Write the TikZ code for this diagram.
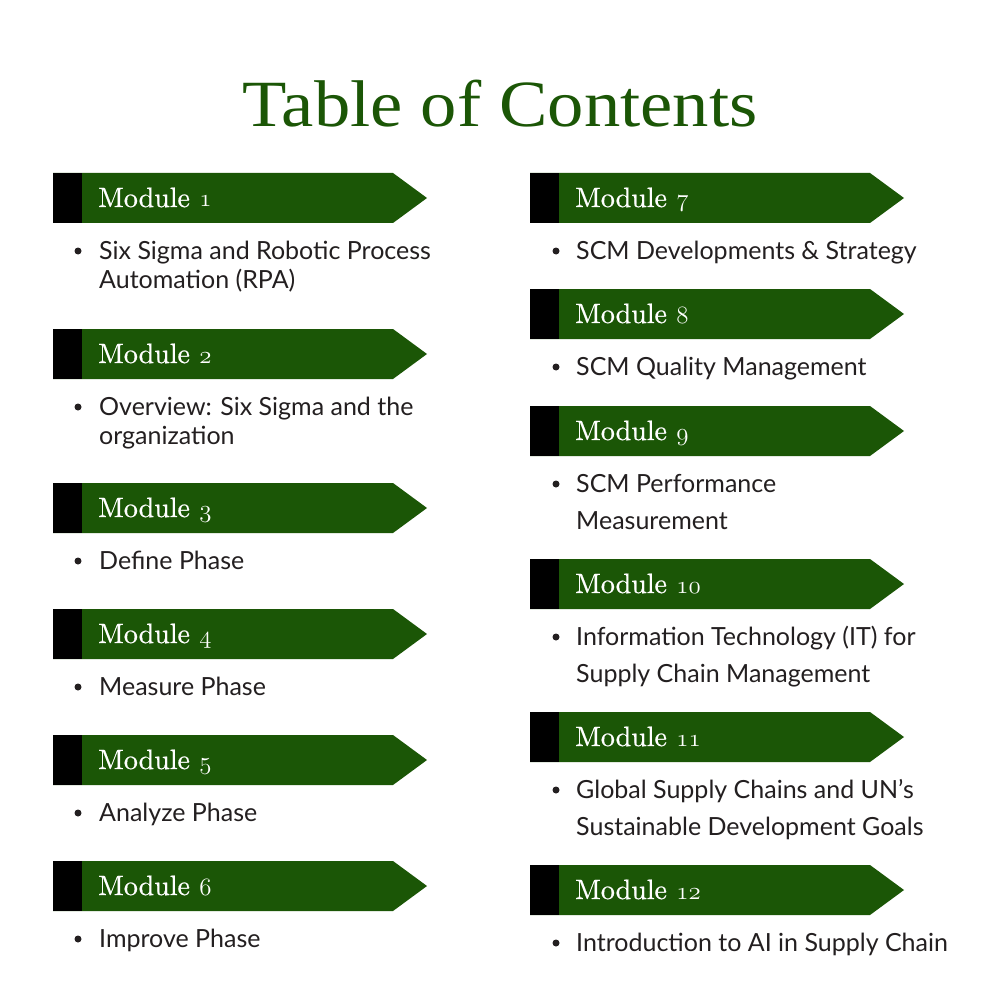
\documentclass[tikz,border=0pt]{standalone}
\usepackage{fontspec}
\setsansfont{Lato}
\newfontfamily\titlefont[FakeStretch=1.1]{Liberation Serif}
\newfontfamily\headfont[Extension=.otf, FakeBold=0.6]{lmroman10-regular}
\usetikzlibrary{positioning,calc}
\definecolor{tocgreen}{HTML}{1B5606}
\definecolor{toctext}{HTML}{231F20}
% old style digits from the math italic font
\newcommand\osn[1]{{\usefont{OML}{lmm}{b}{it}#1}}
% lines of a point, first baseline on the node's base
\newcommand\lines[1]{\begin{tabular}[t]{@{}l@{}}#1\end{tabular}}
% banner: name, x, y of top edge, module number
\newcommand\tocbanner[4]{%
  \fill[banner] (#2,#3) -- ++(340,0) -- ++(34,25) -- ++(-34,25) -- ++(-340,0) -- cycle;
  \fill[black] (#2,#3) rectangle ++(29,50);
  \node[heading] (#1) at (#2+45,#3+34) {Module \osn{#4}};
}

\begin{document}
\begin{tikzpicture}[x=1pt,y=-1pt,
    banner/.style={fill=tocgreen},
    heading/.style={anchor=base west, inner sep=0pt, text=white,
      font=\headfont\fontsize{28}{28}\selectfont},
    dot/.style={circle, fill=toctext, inner sep=0pt, minimum size=7pt},
    point/.style={anchor=base west, inner sep=0pt, text=toctext,
      font=\sffamily\fontsize{25}{29}\selectfont},
    wide/.style={point, font=\sffamily\fontsize{25}{37.5}\selectfont}
  ]
  \fill[white] (0,0) rectangle (1000,1000);
  \useasboundingbox (0,0) rectangle (1000,1000);

  \node[anchor=base, inner sep=0pt, text=tocgreen,
    font=\titlefont\fontsize{66}{66}\selectfont] (title) at (500,127) {Table of Contents};

  % left column
  \foreach \n/\top/\txt in {1/173/{Six Sigma and Robotic Process\\Automation (RPA)},
      2/329/{Overview: Six Sigma and the\\organization},
      3/483/{Define Phase},
      4/609/{Measure Phase},
      5/735/{Analyze Phase},
      6/861/{Improve Phase}}{
    \tocbanner{m\n}{53}{\top}{\n}
    \node[dot] (d\n) at (78,\top+78) {};
    \node[point] (t\n) at (99,\top+86) {\lines{\txt}};
  }

  % right column
  \foreach \n/\top/\txt in {7/173/{SCM Developments \& Strategy},
      8/289/{SCM Quality Management},
      9/406/{SCM Performance\\Measurement},
      10/559/{Information Technology (IT) for\\Supply Chain Management},
      11/712/{Global Supply Chains and UN’s\\Sustainable Development Goals},
      12/865/{Introduction to AI in Supply Chain}}{
    \tocbanner{m\n}{530}{\top}{\n}
    \node[dot] (d\n) at (556,\top+78) {};
    \node[wide] (t\n) at (576,\top+86) {\lines{\txt}};
  }
\end{tikzpicture}
\end{document}
